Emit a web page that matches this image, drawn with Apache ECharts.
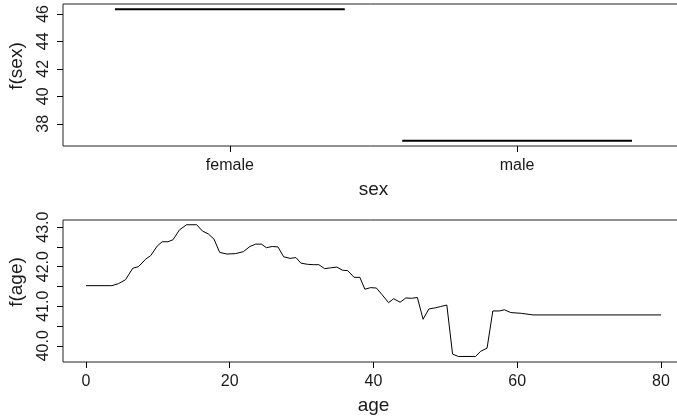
<!DOCTYPE html>
<html><head><meta charset="utf-8">
<script src="https://cdn.jsdelivr.net/npm/echarts@6/dist/echarts.min.js"></script>
<style>html,body{margin:0;padding:0;background:#fff}#c{width:677px;height:419px}</style>
</head><body><div id="c"></div>
<script>
// ---- data ----
const sexCategories = ['female', 'male'];
const sexValues = [46.34, 36.76];
const sexYTicks = [38, 40, 42, 44, 46];

const ageX = [0, 3.6, 4.5, 5.5, 6.5, 7.3, 8.3, 9.0, 9.9, 10.6, 11.4, 12.1, 13.0, 14.0, 15.4, 16.2, 17.0, 17.8, 18.6, 19.6,
  20.8, 21.9, 22.8, 23.6, 24.4, 25.1, 25.9, 26.7, 27.5, 28.4, 29.2, 29.9, 30.8, 31.7, 32.4, 33.2, 34.0, 34.9, 35.7, 36.4,
  37.3, 38.1, 38.8, 39.6, 40.4, 41.2, 42.1, 42.8, 43.7, 44.5, 45.3, 46.1, 46.9, 47.7, 48.6, 49.3, 50.2, 51.0, 51.8, 54.2,
  54.9, 55.8, 56.6, 57.5, 58.2, 59.1, 60.6, 62.2, 80];
const ageF = [41.52, 41.52, 41.57, 41.67, 41.96, 42.00, 42.19, 42.28, 42.52, 42.63, 42.63, 42.68, 42.93, 43.06, 43.06, 42.90, 42.83, 42.70, 42.36, 42.32,
  42.33, 42.38, 42.51, 42.57, 42.57, 42.48, 42.51, 42.50, 42.25, 42.21, 42.23, 42.09, 42.06, 42.05, 42.05, 41.95, 41.97, 41.99, 41.91, 41.90,
  41.73, 41.73, 41.43, 41.47, 41.46, 41.29, 41.09, 41.19, 41.10, 41.21, 41.20, 41.22, 40.67, 40.93, 40.96, 40.99, 41.03, 39.79, 39.73, 39.73,
  39.86, 39.94, 40.88, 40.88, 40.91, 40.84, 40.82, 40.78, 40.78];
const ageXTicks = [0, 20, 40, 60, 80];
const ageYTicks = [40, 40.5, 41, 41.5, 42, 42.5, 43];
const ageYLabels = [40, 41, 42, 43];

// ---- chart ----
const FONT = 'Liberation Sans, Arial, Helvetica, sans-serif';
const TXT = '#1a1a1a';
const chart = echarts.init(document.getElementById('c'), null, {renderer: 'canvas'});

function axisCommon() {
  return {
    axisLine: {show: false, onZero: false},
    splitLine: {show: false},
    nameTextStyle: {color: TXT, fontSize: 19, fontFamily: FONT},
    nameLocation: 'middle'
  };
}

const option = {
  animation: false,
  backgroundColor: '#fff',
  grid: [
    {left: 63, top: 4, width: 621, height: 142, show: true, borderColor: '#222', borderWidth: 1,
      backgroundColor: 'transparent', outerBoundsMode: 'none', containLabel: false},
    {left: 63, top: 220, width: 621, height: 142, show: true, borderColor: '#222', borderWidth: 1,
      backgroundColor: 'transparent', outerBoundsMode: 'none', containLabel: false}
  ],
  xAxis: [
    Object.assign(axisCommon(), {
      gridIndex: 0, type: 'value', min: 0.419, max: 2.581, name: 'sex', nameGap: 34,
      axisTick: {show: true, length: 6, lineStyle: {color: '#000'}, customValues: [1, 2]},
      axisLabel: {show: true, color: TXT, fontSize: 16, fontFamily: FONT, margin: 12, customValues: [1, 2],
        formatter: v => sexCategories[Math.round(v) - 1] || ''}
    }),
    Object.assign(axisCommon(), {
      gridIndex: 1, type: 'value', min: -3.2, max: 83.2, name: 'age', nameGap: 34,
      axisTick: {show: true, length: 6, lineStyle: {color: '#000'}, customValues: ageXTicks},
      axisLabel: {show: true, color: TXT, fontSize: 16, fontFamily: FONT, margin: 12, customValues: ageXTicks}
    })
  ],
  yAxis: [
    Object.assign(axisCommon(), {
      gridIndex: 0, type: 'value', min: 36.38, max: 46.72, name: 'f(sex)', nameGap: 37,
      nameTextStyle: {color: TXT, fontSize: 19, fontFamily: FONT, padding: [0, 0, 0, 18]},
      axisTick: {show: true, length: 6, lineStyle: {color: '#000'}, customValues: sexYTicks},
      axisLabel: {show: true, color: TXT, fontSize: 16, fontFamily: FONT, rotate: 90, margin: 11, customValues: sexYTicks}
    }),
    Object.assign(axisCommon(), {
      gridIndex: 1, type: 'value', min: 39.59, max: 43.18, name: 'f(age)', nameGap: 37,
      nameTextStyle: {color: TXT, fontSize: 19, fontFamily: FONT, padding: [0, 0, 0, 18]},
      axisTick: {show: true, length: 6, lineStyle: {color: '#000'}, customValues: ageYTicks},
      axisLabel: {show: true, color: TXT, fontSize: 16, fontFamily: FONT, rotate: 90, margin: 11, customValues: ageYLabels,
        formatter: v => v.toFixed(1)}
    })
  ],
  series: [
    {
      type: 'custom', xAxisIndex: 0, yAxisIndex: 0,
      data: sexCategories.map((c, i) => [i + 1, sexValues[i]]),
      renderItem: (params, api) => {
        const c = api.value(0), v = api.value(1);
        const p1 = api.coord([c - 0.4, v]);
        const p2 = api.coord([c + 0.4, v]);
        return {type: 'line', shape: {x1: p1[0], y1: p1[1], x2: p2[0], y2: p2[1]},
          style: {stroke: '#000', lineWidth: 2}};
      }
    },
    {
      type: 'line', xAxisIndex: 1, yAxisIndex: 1, showSymbol: false, symbol: 'none',
      data: ageX.map((a, i) => [a, ageF[i]]),
      lineStyle: {color: '#000', width: 1}
    }
  ]
};
chart.setOption(option);
</script>
</body></html>
